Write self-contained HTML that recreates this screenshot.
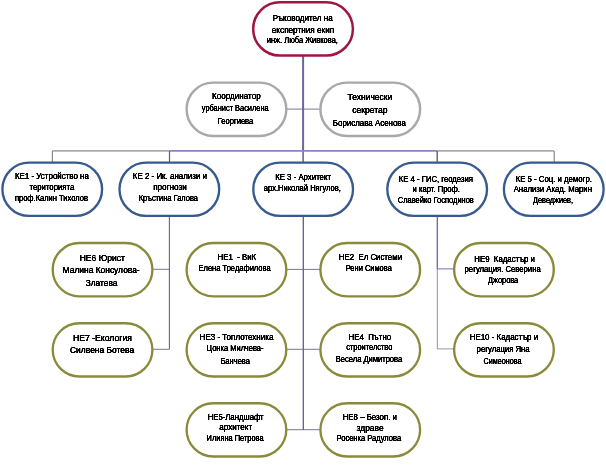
<!DOCTYPE html><html><head><meta charset="utf-8"><style>html,body{margin:0;padding:0;background:#fff}svg{display:block}text{font-family:"Liberation Sans",sans-serif;font-size:8.8px;fill:#000;stroke:#000;stroke-width:0.18}</style></head><body>
<svg width="606" height="474" viewBox="0 0 606 474">
<rect width="606" height="474" fill="#fff"/>
<defs><filter id="tx" x="0" y="0" width="606" height="474" filterUnits="userSpaceOnUse" color-interpolation-filters="sRGB"><feComponentTransfer><feFuncA type="linear" slope="2.2" intercept="-0.2"/></feComponentTransfer></filter></defs>
<line x1="303.1" y1="55" x2="303.1" y2="151" stroke="#6865A5" stroke-width="2.0"/>
<line x1="303.1" y1="151" x2="303.1" y2="162.6" stroke="#5F5D8C" stroke-width="1.5"/>
<line x1="303.3" y1="216" x2="303.3" y2="430" stroke="#57558F" stroke-width="1.25"/>
<line x1="286.1" y1="109.1" x2="320.4" y2="109.1" stroke="#6A6888" stroke-width="0.9"/>
<line x1="52.3" y1="150.9" x2="169.5" y2="150.9" stroke="#ABABAB" stroke-width="1.7"/>
<line x1="169.5" y1="150.9" x2="437.2" y2="150.9" stroke="#8C82C8" stroke-width="1.7"/>
<line x1="437.2" y1="150.9" x2="554.0" y2="150.9" stroke="#ABABAB" stroke-width="1.7"/>
<line x1="52.4" y1="150.9" x2="52.4" y2="162.6" stroke="#8A8A8A" stroke-width="1.2"/>
<line x1="554.2" y1="150.9" x2="554.2" y2="162.6" stroke="#8A8A8A" stroke-width="1.2"/>
<line x1="169.5" y1="150.9" x2="169.5" y2="162.6" stroke="#5E5E72" stroke-width="1.2"/>
<line x1="169.4" y1="216" x2="169.4" y2="349.3" stroke="#66667E" stroke-width="1.1"/>
<line x1="152.4" y1="269.3" x2="169.4" y2="269.3" stroke="#6A6888" stroke-width="0.9"/>
<line x1="152.4" y1="349.3" x2="169.4" y2="349.3" stroke="#6A6888" stroke-width="0.9"/>
<line x1="437.2" y1="150.9" x2="437.2" y2="162.6" stroke="#5E5E72" stroke-width="1.4"/>
<line x1="437.3" y1="216" x2="437.3" y2="268.9" stroke="#6866AE" stroke-width="1.3"/>
<line x1="437.3" y1="268.9" x2="437.3" y2="349" stroke="#9090A2" stroke-width="1.0"/>
<line x1="437.3" y1="268.9" x2="454.1" y2="268.9" stroke="#6866AE" stroke-width="0.95"/>
<line x1="437.3" y1="348.9" x2="454.1" y2="348.9" stroke="#9090A2" stroke-width="0.95"/>
<line x1="286.3" y1="269.4" x2="320.4" y2="269.4" stroke="#6A6888" stroke-width="0.9"/>
<line x1="286.3" y1="349.3" x2="320.4" y2="349.3" stroke="#6A6888" stroke-width="0.9"/>
<line x1="286.3" y1="429.7" x2="320.4" y2="429.7" stroke="#6A6888" stroke-width="0.9"/>
<rect x="253.20" y="2.25" width="99.7" height="53.3" rx="26.65" fill="#fff" stroke="#9E1641" stroke-width="2.5"/>
<rect x="186.60" y="82.60" width="99.7" height="53.3" rx="26.65" fill="#fff" stroke="#A9A9A9" stroke-width="2.45"/>
<rect x="320.40" y="82.60" width="99.7" height="53.3" rx="26.65" fill="#fff" stroke="#A9A9A9" stroke-width="2.45"/>
<rect x="2.40" y="162.60" width="99.7" height="53.3" rx="26.65" fill="#fff" stroke="#375B8C" stroke-width="2.35"/>
<rect x="119.50" y="162.60" width="99.7" height="53.3" rx="26.65" fill="#fff" stroke="#375B8C" stroke-width="2.35"/>
<rect x="253.30" y="162.60" width="99.7" height="53.3" rx="26.65" fill="#fff" stroke="#375B8C" stroke-width="2.35"/>
<rect x="387.30" y="162.60" width="99.7" height="53.3" rx="26.65" fill="#fff" stroke="#375B8C" stroke-width="2.35"/>
<rect x="503.90" y="162.60" width="99.7" height="53.3" rx="26.65" fill="#fff" stroke="#375B8C" stroke-width="2.35"/>
<rect x="52.70" y="243.00" width="99.7" height="53.3" rx="26.65" fill="#fff" stroke="#898B3A" stroke-width="2.35"/>
<rect x="52.70" y="323.20" width="99.7" height="53.3" rx="26.65" fill="#fff" stroke="#898B3A" stroke-width="2.35"/>
<rect x="186.60" y="243.00" width="99.7" height="53.3" rx="26.65" fill="#fff" stroke="#898B3A" stroke-width="2.35"/>
<rect x="320.40" y="243.00" width="99.7" height="53.3" rx="26.65" fill="#fff" stroke="#898B3A" stroke-width="2.35"/>
<rect x="454.10" y="243.00" width="99.7" height="53.3" rx="26.65" fill="#fff" stroke="#898B3A" stroke-width="2.35"/>
<rect x="454.10" y="323.20" width="99.7" height="53.3" rx="26.65" fill="#fff" stroke="#898B3A" stroke-width="2.35"/>
<rect x="186.60" y="323.20" width="99.7" height="53.3" rx="26.65" fill="#fff" stroke="#898B3A" stroke-width="2.35"/>
<rect x="320.40" y="323.20" width="99.7" height="53.3" rx="26.65" fill="#fff" stroke="#898B3A" stroke-width="2.35"/>
<rect x="186.60" y="403.20" width="99.7" height="53.3" rx="26.65" fill="#fff" stroke="#898B3A" stroke-width="2.35"/>
<rect x="320.40" y="403.20" width="99.7" height="53.3" rx="26.65" fill="#fff" stroke="#898B3A" stroke-width="2.35"/>
<g filter="url(#tx)">
<text transform="translate(272.70,20.80) scale(0.9176,1)" style="font-size:8.8px">Ръководител на</text>
<text transform="translate(271.80,32.50) scale(0.9309,1)" style="font-size:8.8px">експертния екип</text>
<text transform="translate(266.70,43.20) scale(0.8533,1)" style="font-size:8.8px">инж. Люба Живкова,</text>
<text transform="translate(212.10,99.00) scale(0.9202,1)" style="font-size:8.8px">Координатор</text>
<text transform="translate(201.80,110.70) scale(0.8423,1)" style="font-size:8.8px">урбанист Василена</text>
<text transform="translate(217.60,123.90) scale(0.8635,1)" style="font-size:8.8px">Георгиева</text>
<text transform="translate(347.60,99.97) scale(0.9636,1)" style="font-size:8.8px">Технически</text>
<text transform="translate(352.20,113.27) scale(0.9736,1)" style="font-size:8.8px">секретар</text>
<text transform="translate(332.80,125.87) scale(0.9016,1)" style="font-size:8.8px">Борислава Асенова</text>
<text transform="translate(14.90,179.07) scale(0.9057,1)" style="font-size:8.8px">КЕ1 - Устройство на</text>
<text transform="translate(29.50,189.97) scale(0.8809,1)" style="font-size:8.8px">територията</text>
<text transform="translate(14.90,200.77) scale(0.8582,1)" style="font-size:8.8px">проф.Калин Тихолов</text>
<text transform="translate(132.80,179.07) scale(0.9026,1)" style="font-size:8.8px">КЕ 2 - Ик. анализи и</text>
<text transform="translate(153.20,189.97) scale(0.9241,1)" style="font-size:8.8px">прогнози</text>
<text transform="translate(138.70,201.27) scale(0.8509,1)" style="font-size:8.8px">Кръстина Галова</text>
<text transform="translate(275.20,180.07) scale(0.8884,1)" style="font-size:8.8px">КЕ 3 - Архитект</text>
<text transform="translate(263.80,190.97) scale(0.8615,1)" style="font-size:8.8px">арх.Николай Нягулов,</text>
<text transform="translate(398.80,182.47) scale(0.8768,1)" style="font-size:8.8px">КЕ 4 - ГИС, геодезия</text>
<text transform="translate(412.60,192.37) scale(0.8678,1)" style="font-size:8.8px">и карт. Проф.</text>
<text transform="translate(397.80,203.17) scale(0.8518,1)" style="font-size:8.8px">Славейко Господинов</text>
<text transform="translate(515.70,182.07) scale(0.8853,1)" style="font-size:8.8px">КЕ 5 - Соц. и демогр.</text>
<text transform="translate(513.70,192.37) scale(0.8810,1)" style="font-size:8.8px">Анализи Акад. Марин</text>
<text transform="translate(533.10,203.17) scale(0.8320,1)" style="font-size:8.8px">Деведжиев,</text>
<text transform="translate(79.70,261.37) scale(0.9180,1)" style="font-size:9.3px">НЕ6 Юрист</text>
<text transform="translate(62.60,273.47) scale(0.9067,1)" style="font-size:9.3px">Малина Консулова-</text>
<text transform="translate(85.70,286.27) scale(0.8969,1)" style="font-size:9.3px">Златева</text>
<text transform="translate(73.00,341.37) scale(0.9287,1)" style="font-size:9.3px">НЕ7 -Екология</text>
<text transform="translate(70.00,353.27) scale(0.9090,1)" style="font-size:9.3px">Силвена Ботева</text>
<text transform="translate(217.60,259.60) scale(0.8918,1)" style="font-size:8.8px">НЕ1&#160; - ВиК</text>
<text transform="translate(198.50,270.70) scale(0.8574,1)" style="font-size:8.8px">Елена Тредафилова</text>
<text transform="translate(338.80,260.07) scale(0.8927,1)" style="font-size:8.8px">НЕ2&#160; Ел Системи</text>
<text transform="translate(345.70,270.87) scale(0.8514,1)" style="font-size:8.8px">Рени Симова</text>
<text transform="translate(474.30,261.97) scale(0.8896,1)" style="font-size:8.8px">НЕ9&#160; Кадастър и</text>
<text transform="translate(464.60,271.67) scale(0.8748,1)" style="font-size:8.8px">регулация. Северина</text>
<text transform="translate(488.10,283.17) scale(0.8361,1)" style="font-size:8.8px">Джорова</text>
<text transform="translate(469.70,339.67) scale(0.9008,1)" style="font-size:8.8px">НЕ10 - Кадастър и</text>
<text transform="translate(476.60,351.67) scale(0.8777,1)" style="font-size:8.8px">регулация Яна</text>
<text transform="translate(483.50,363.87) scale(0.8224,1)" style="font-size:8.8px">Симеонова</text>
<text transform="translate(199.60,340.00) scale(0.9131,1)" style="font-size:8.8px">НЕ3 - Топлотехника</text>
<text transform="translate(206.60,350.70) scale(0.8545,1)" style="font-size:8.8px">Цонка Милчева-</text>
<text transform="translate(220.40,363.80) scale(0.8587,1)" style="font-size:8.8px">Банчева</text>
<text transform="translate(348.50,340.47) scale(0.8969,1)" style="font-size:8.8px">НЕ4&#160; Пътно</text>
<text transform="translate(346.20,350.07) scale(0.8448,1)" style="font-size:8.8px">строителство</text>
<text transform="translate(335.80,361.87) scale(0.8598,1)" style="font-size:8.8px">Весела Димитрова</text>
<text transform="translate(207.70,420.00) scale(0.8802,1)" style="font-size:8.8px">НЕ5-Ландшафт</text>
<text transform="translate(219.30,430.40) scale(0.9159,1)" style="font-size:8.8px">архитект</text>
<text transform="translate(206.60,441.40) scale(0.8468,1)" style="font-size:8.8px">Илияна Петрова</text>
<text transform="translate(342.70,420.07) scale(0.8936,1)" style="font-size:8.8px">НЕ8 – Безоп. и</text>
<text transform="translate(356.60,430.87) scale(0.9563,1)" style="font-size:8.8px">здраве</text>
<text transform="translate(336.50,441.27) scale(0.8591,1)" style="font-size:8.8px">Росенка Радулова</text>
</g>
</svg></body></html>
